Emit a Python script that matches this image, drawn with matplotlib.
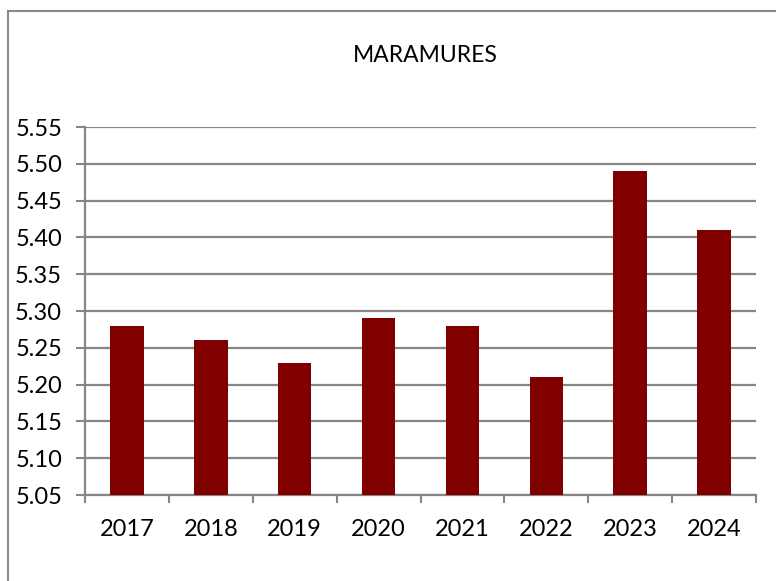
import matplotlib.pyplot as plt
import matplotlib.patches as patches
import numpy as np

# Data
years = ["2017", "2018", "2019", "2020", "2021", "2022", "2023", "2024"]
values = [5.28, 5.26, 5.23, 5.29, 5.28, 5.21, 5.49, 5.41]
y_ticks = [5.05, 5.10, 5.15, 5.20, 5.25, 5.30, 5.35, 5.40, 5.45, 5.50, 5.55]
title = "MARAMURES"

plt.rcParams['font.family'] = ['Lato', 'DejaVu Sans']

fig = plt.figure(figsize=(7.76, 5.81), dpi=100)
ax = fig.add_axes([85 / 776, 1 - 495 / 581, (756 - 85) / 776, (495 - 127) / 581])

grid_col = "#868686"
x = np.arange(len(years))
ax.bar(x, values, width=0.4, color="#800000", zorder=3)

ax.set_xlim(-0.5, len(years) - 0.5)
ax.set_ylim(5.05, 5.55)
ax.set_yticks(y_ticks)
ax.set_yticklabels(["%.2f" % v for v in y_ticks], fontsize=17)
ax.set_xticks(x)
ax.set_xticklabels(years, fontsize=17)
ax.tick_params(axis='x', length=0, pad=17)
ax.tick_params(axis='y', length=6.5, width=1.5, color=grid_col, pad=10)

# category boundary tick marks below the x axis
ax.set_xticks(np.arange(len(years) + 1) - 0.5, minor=True)
ax.tick_params(axis='x', which='minor', length=6, width=1.5, color=grid_col)

ax.yaxis.grid(True, color=grid_col, linewidth=1.6, zorder=0)
ax.set_axisbelow(True)
for s in ["top", "right"]:
    ax.spines[s].set_visible(False)
for s in ["left", "bottom"]:
    ax.spines[s].set_color(grid_col)
    ax.spines[s].set_linewidth(1.6)

fig.text(425 / 776, 1 - 55 / 581, title, ha="center", va="center", fontsize=16.5)

# outer chart border (cut off on the right and bottom)
border = patches.Rectangle((8 / 776, -0.1), 1.2, 1 - 11 / 581 + 0.1,
                           transform=fig.transFigure, fill=False,
                           edgecolor="#8a8a8a", linewidth=1.5)
fig.patches.append(border)

fig.savefig("out.png", dpi=100)
